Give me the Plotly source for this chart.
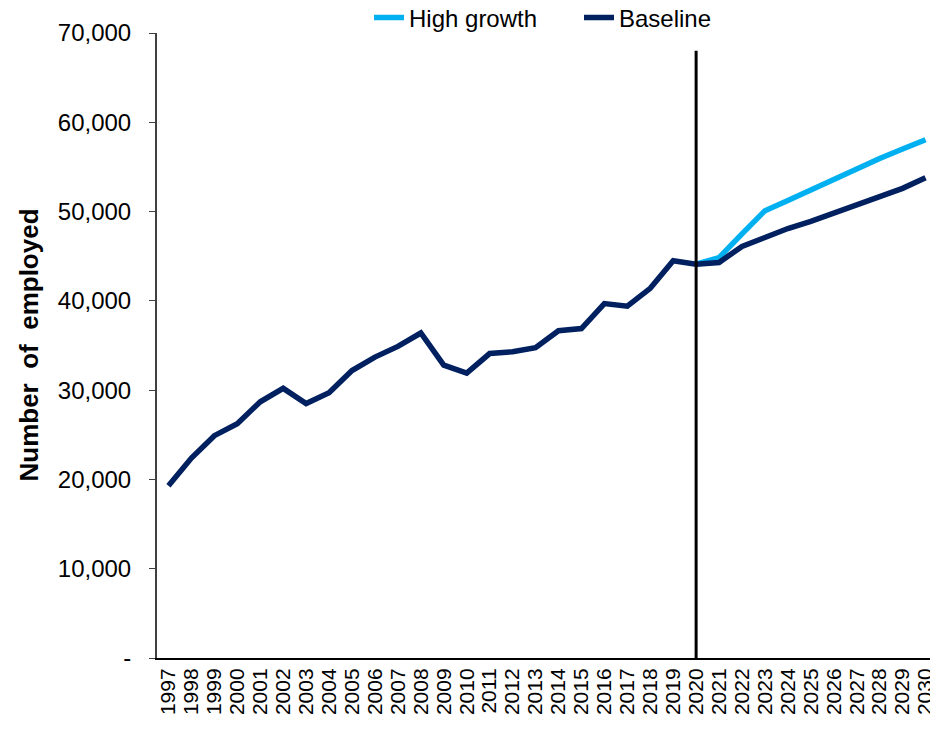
import plotly.graph_objects as go

years = [str(y) for y in range(1997, 2031)]

baseline = [19300, 22400, 24900, 26250, 28700, 30200, 28500, 29700, 32200, 33700,
            34900, 36400, 32800, 31900, 34100, 34300, 34750, 36650, 36900, 39700,
            39400, 41400, 44500, 44100, 44300, 46100, 47100, 48100, 48900, 49800,
            50700, 51650, 52600, 53800]

high_growth = [None] * 23 + [44100, 44850, 47500, 50100, 51250, 52450, 53700,
                             54900, 55950, 57000, 58050]

y_ticks = [0, 10000, 20000, 30000, 40000, 50000, 60000, 70000]
y_labels = ["-", "10,000", "20,000", "30,000", "40,000", "50,000", "60,000", "70,000"]

forecast_start = "2020"

font = "Liberation Sans, Arial, sans-serif"

fig = go.Figure()
fig.add_trace(go.Scatter(x=years, y=high_growth, mode="lines", name="High growth",
                         line=dict(color="#00B0F0", width=5.5)))
fig.add_trace(go.Scatter(x=years, y=baseline, mode="lines", name="Baseline",
                         line=dict(color="#002060", width=5.5)))

# vertical marker at the start of the projection (category index on the x axis)
xi = years.index(forecast_start)
fig.add_shape(type="line", xref="x", yref="y", x0=xi, x1=xi, y0=0, y1=68000,
              line=dict(color="black", width=3))

fig.add_annotation(text="<b>Number  of  employed</b>", textangle=-90,
                   xref="paper", yref="paper", x=0, y=0.5, xanchor="center",
                   yanchor="middle", xshift=-129, showarrow=False,
                   font=dict(family=font, size=26, color="black"))

# page body adds an 8px margin, so the figure is a bit smaller than the window
fig.update_layout(
    width=930, height=727,
    margin=dict(l=149, r=1, t=25, b=77, autoexpand=False),
    plot_bgcolor="white", paper_bgcolor="white",
    font=dict(family=font, color="black"),
    showlegend=True,
    legend=dict(orientation="h", x=0.2718, y=1.06, xanchor="left", yanchor="top",
                font=dict(size=24), bgcolor="rgba(0,0,0,0)",
                entrywidth=165, entrywidthmode="pixels"),
)
fig.update_xaxes(type="category", range=[-0.5, len(years) - 0.5], tickangle=-90,
                 tickmode="array", tickvals=years, ticktext=years,
                 tickfont=dict(size=21), showline=True, linecolor="black", linewidth=2,
                 showgrid=False, ticks="", zeroline=False, automargin=False)
fig.update_yaxes(range=[0, 70000], tickvals=y_ticks, ticktext=y_labels,
                 tickfont=dict(size=24), showline=True, linecolor="#404040", linewidth=2,
                 ticks="outside", ticklen=6, tickcolor="#404040", showgrid=False,
                 zeroline=False, ticklabelstandoff=13, automargin=False)

fig.write_html("out.html")
